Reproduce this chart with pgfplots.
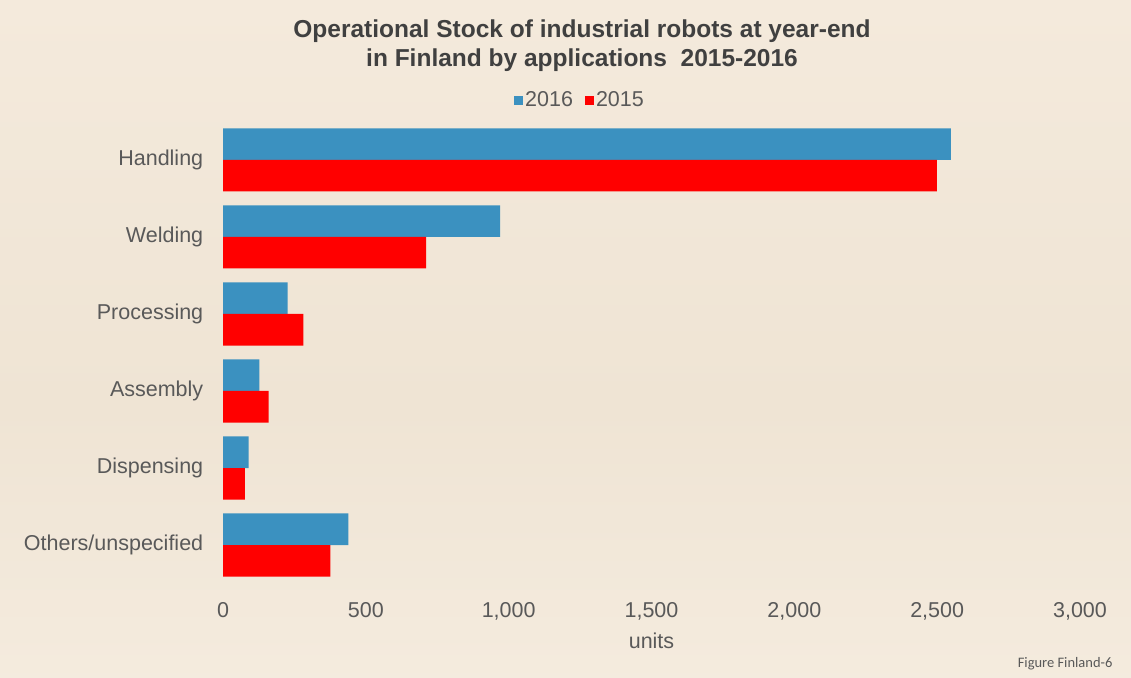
\documentclass[border=0pt]{standalone}
\usepackage{pgfplots}
\pgfplotsset{compat=1.18}
\usepackage{fontspec}
\setmainfont{Liberation Sans}
\newfontfamily\carlito{Carlito}
\definecolor{barblue}{RGB}{59,145,192}
\definecolor{barred}{RGB}{255,0,0}
\definecolor{titlegray}{RGB}{64,64,64}
\definecolor{labgray}{RGB}{89,89,89}
\pgfdeclareverticalshading{bgshade}{100bp}{%
  color(0bp)=(rgb,255:red,255;green,255;blue,255);
  color(6bp)=(rgb,255:red,253;green,250;blue,244);
  color(14bp)=(rgb,255:red,247;green,239;blue,227);
  color(45bp)=(rgb,255:red,239;green,228;blue,212);
  color(75bp)=(rgb,255:red,244;green,234;blue,220);
  color(90bp)=(rgb,255:red,251;green,246;blue,238);
  color(100bp)=(rgb,255:red,255;green,255;blue,254)}

\pgfplotstableread{
y v2016 v2015
5 2548 2499
4 970 711
3 226 281
2 127 160
1 90 77
0 439 376
}\robotdata

\begin{document}
\begin{tikzpicture}[x=1pt,y=1pt]
\shade[shading=bgshade] (0,0) rectangle (1131,677);
\node[font=\fontsize{24.5}{29}\selectfont\bfseries, text=titlegray, align=center] at (582,631) {Operational Stock of industrial robots at year-end\\in Finland by applications\ \ 2015-2016};
\node[anchor=east, font=\carlito\fontsize{14.5}{16}\selectfont, text=labgray] at (1116,13) {Figure Finland-6};
\begin{axis}[
  at={(223pt,93.5pt)}, anchor=south west,
  scale only axis, width=857pt, height=462pt,
  xmin=0, xmax=3000, ymin=-0.5, ymax=5.5,
  xbar, bar width=31.5pt,
  axis line style={draw=none}, tick style={draw=none},
  xtick={0,500,...,3000},
  ytick={0,...,5},
  yticklabels={Others/unspecified,Dispensing,Assembly,Processing,Welding,Handling},
  /pgf/number format/assume math mode=true,
  /pgf/number format/1000 sep={,},
  scaled x ticks=false,
  ticklabel style={font=\fontsize{21.5}{25}\selectfont, text=labgray},
  yticklabel style={anchor=east, xshift=-12pt},
  xticklabel style={yshift=-15pt},
  xlabel={units},
  xlabel style={font=\fontsize{21.5}{25}\selectfont, text=labgray, yshift=-6pt},
  legend columns=2,
  legend style={at={(0.4166,1.0465)}, anchor=center, draw=none, fill=none,
    font=\fontsize{21.5}{25}\selectfont, text=labgray,
    /tikz/every even column/.append style={column sep=10pt}},
  legend image code/.code={\fill[#1,draw=none] (0pt,-5pt) rectangle (9pt,4pt);},
]
\addplot[fill=barblue, draw=none, bar shift=15.75pt] table[x=v2016,y=y] {\robotdata};
\addplot[fill=barred, draw=none, bar shift=-15.75pt] table[x=v2015,y=y] {\robotdata};
\legend{2016,2015}
\end{axis}
\end{tikzpicture}
\end{document}
